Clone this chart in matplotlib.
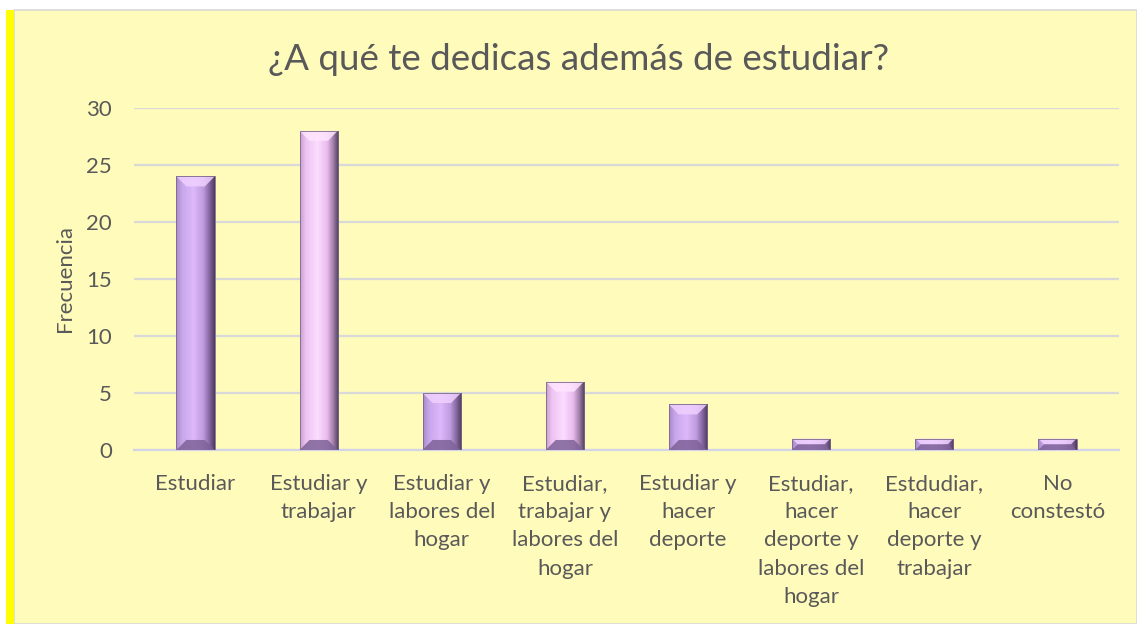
import numpy as np
import matplotlib.pyplot as plt
from matplotlib.colors import LinearSegmentedColormap
from matplotlib.patches import Polygon, Rectangle

# data
categorias = [
    "Estudiar",
    "Estudiar y\ntrabajar",
    "Estudiar y\nlabores del\nhogar",
    "Estudiar,\ntrabajar y\nlabores del\nhogar",
    "Estudiar y\nhacer\ndeporte",
    "Estudiar,\nhacer\ndeporte y\nlabores del\nhogar",
    "Estdudiar,\nhacer\ndeporte y\ntrabajar",
    "No\nconstestó",
]
frecuencia = [24, 28, 5, 6, 4, 1, 1, 1]
y_ticks = [0, 5, 10, 15, 20, 25, 30]

titulo = "¿A qué te dedicas además de estudiar?"
fondo = "#FFFBBB"
texto = "#595959"

plt.rcParams['font.family'] = ['Lato', 'DejaVu Sans']

fig = plt.figure(figsize=(11.37, 6.24), dpi=100)
fig.patch.set_facecolor("white")

# chart area background + yellow stripe on the left
fig.add_artist(Rectangle((14 / 1137, 0), 1 - 14 / 1137, 1 - 10 / 624,
                         transform=fig.transFigure, facecolor=fondo,
                         edgecolor="#D9D9D9", lw=1.2, zorder=0))
fig.add_artist(Rectangle((6 / 1137, 0), 8 / 1137, 1 - 10 / 624,
                         transform=fig.transFigure, facecolor="#FFFF00",
                         edgecolor="none", zorder=1))

ax = fig.add_axes([134 / 1137, 174 / 624, 985 / 1137, 342 / 624])
ax.set_facecolor(fondo)

x = np.arange(len(categorias))
ancho = 0.31
bars = ax.bar(x, frecuencia, width=ancho, color="none", edgecolor="none", zorder=3)

morado = LinearSegmentedColormap.from_list(
    "morado", [(0, "#A888CC"), (0.15, "#C8A6EA"), (0.45, "#DDB8FA"),
               (0.7, "#C09CE0"), (0.85, "#8C6CA8"), (1, "#4E3C5E")])
rosa = LinearSegmentedColormap.from_list(
    "rosa", [(0, "#C8A0D0"), (0.15, "#EEC4F2"), (0.45, "#FCDCFF"),
             (0.7, "#E8BCEE"), (0.85, "#A884B0"), (1, "#4E3C5E")])

grad = np.linspace(0, 1, 64).reshape(1, -1)
bx = 0.08                     # bevel width in data units (~10 px)
by_full = 0.88                # bevel height in data units (~10 px)

for i, b in enumerate(bars):
    x0, w, h = b.get_x(), b.get_width(), b.get_height()
    cmap = rosa if i in (1, 3) else morado
    im = ax.imshow(grad, cmap=cmap, extent=[x0, x0 + w, 0, h],
                   aspect="auto", zorder=3, interpolation="bilinear")
    im.set_clip_path(b)
    by = min(by_full, h / 2)
    dx = bx * by / by_full
    top = Polygon([(x0, h), (x0 + w, h), (x0 + w - dx, h - by), (x0 + dx, h - by)],
                  closed=True, facecolor="#F0D0FF" if cmap is morado else "#FFE4FF",
                  edgecolor="none", alpha=0.85, zorder=4)
    bot = Polygon([(x0, 0), (x0 + w, 0), (x0 + w - dx, by), (x0 + dx, by)],
                  closed=True, facecolor="#7E6298", edgecolor="none",
                  alpha=0.85, zorder=4)
    ax.add_patch(top)
    ax.add_patch(bot)
    ax.add_patch(Rectangle((x0, 0), w, h, facecolor="none",
                           edgecolor="#7A6A88", lw=0.6, zorder=5))

ax.set_xlim(-0.5, len(categorias) - 0.5)
ax.set_ylim(0, 30)
ax.set_yticks(y_ticks)
ax.yaxis.grid(True, color="#D9D9D9", lw=1.6, zorder=0)
ax.set_axisbelow(True)
for s in ["top", "right", "left"]:
    ax.spines[s].set_visible(False)
ax.spines["bottom"].set_color("#D4D4E8")
ax.spines["bottom"].set_linewidth(1.6)
ax.tick_params(axis="both", length=0, colors=texto, labelsize=16)
ax.tick_params(axis="y", pad=16)
ax.tick_params(axis="x", pad=17)
ax.set_xticks(x)
ax.set_xticklabels(categorias, linespacing=1.52, va="top")

ax.set_ylabel("Frecuencia", color=texto, fontsize=16, labelpad=8)
fig.text(579 / 1137, 1 - 60 / 624, titulo, ha="center", va="center",
         fontsize=26.5, color=texto)

fig.savefig("out.png", dpi=100, facecolor=fig.get_facecolor())
